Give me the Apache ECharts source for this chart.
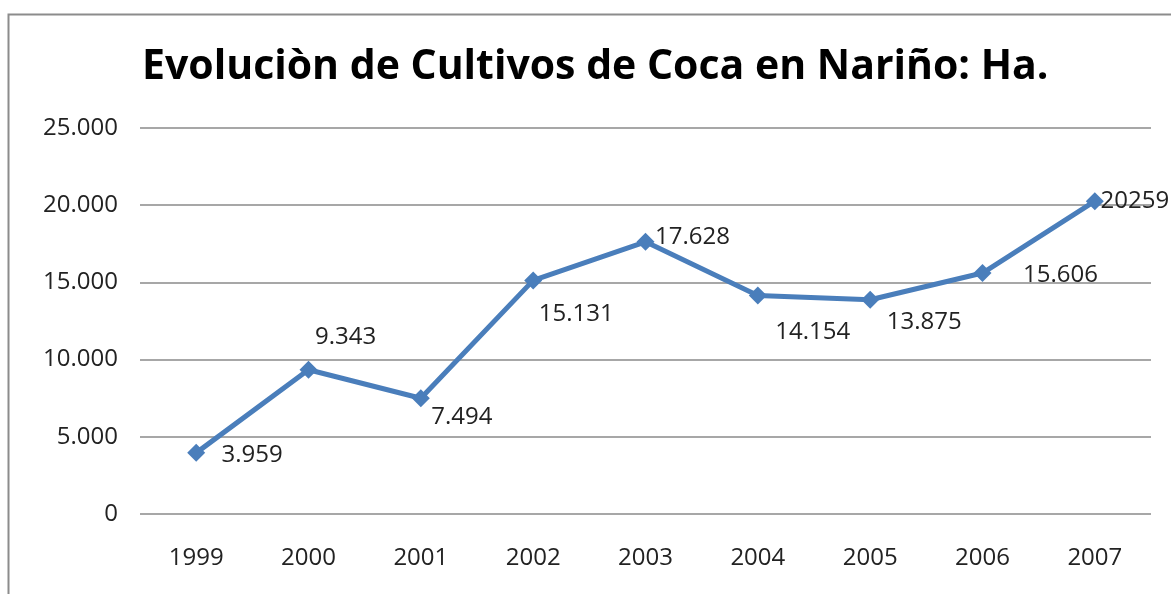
<!DOCTYPE html>
<html>
<head>
<meta charset="UTF-8">
<title>Coca Nariño</title>
<script src="https://cdn.jsdelivr.net/npm/echarts@6/dist/echarts.min.js"></script>
<style>
  html, body { margin: 0; padding: 0; background: #fff; }
  #main { width: 1171px; height: 594px; }
</style>
</head>
<body>
<div id="main"></div>
<script>
var titleText = 'Evoluciòn de Cultivos de Coca en Nariño: Ha.';
var years = ['1999', '2000', '2001', '2002', '2003', '2004', '2005', '2006', '2007'];
var hectares = [3959, 9343, 7494, 15131, 17628, 14154, 13875, 15606, 20259];
var valueLabels = ['3.959', '9.343', '7.494', '15.131', '17.628', '14.154', '13.875', '15.606', '20259'];
// label offsets per point (screen px), matching the original layout
var labelOffsets = [[56, 2], [37, -33], [41, 19], [43, 34], [47, -5], [55, 37], [54, 22], [78, 2], [40, 0]];

var myChart = echarts.init(document.getElementById('main'));

var points = hectares.map(function (v, i) {
    return {
        value: v,
        label: {
            offset: labelOffsets[i],
            formatter: valueLabels[i]
        }
    };
});

var option = {
    animation: false,
    graphic: [{
        type: 'rect',
        shape: { x: 8.5, y: 14.5, width: 1200, height: 620 },
        style: { fill: 'none', stroke: '#8c8c8c', lineWidth: 2 },
        z: -1
    }],
    title: {
        text: titleText,
        left: 137,
        top: 42,
        textStyle: {
            fontFamily: 'Open Sans',
            fontSize: 41,
            fontWeight: 'bold',
            color: '#000'
        }
    },
    grid: {
        left: 140,
        right: 20,
        top: 128,
        bottom: 80,
        containLabel: false
    },
    xAxis: {
        type: 'category',
        data: years,
        axisLine: { show: false },
        axisTick: { show: false },
        axisLabel: {
            margin: 32,
            fontFamily: 'Open Sans',
            fontSize: 24,
            color: '#222'
        }
    },
    yAxis: {
        type: 'value',
        min: 0,
        max: 25000,
        interval: 5000,
        axisLine: { show: false },
        axisTick: { show: false },
        splitLine: { lineStyle: { color: '#8a8a8a', width: 1.5 } },
        axisLabel: {
            margin: 22,
            fontFamily: 'Open Sans',
            fontSize: 24,
            color: '#222',
            formatter: function (v) {
                return v === 0 ? '0' : (v / 1000).toFixed(3);
            }
        }
    },
    series: [{
        type: 'line',
        data: points,
        symbol: 'diamond',
        symbolSize: 18,
        itemStyle: { color: '#4a7ebb' },
        lineStyle: { color: '#4a7ebb', width: 5 },
        label: {
            show: true,
            position: 'inside',
            fontFamily: 'Open Sans',
            fontSize: 24,
            color: '#222'
        }
    }]
};

myChart.setOption(option);
</script>
</body>
</html>
